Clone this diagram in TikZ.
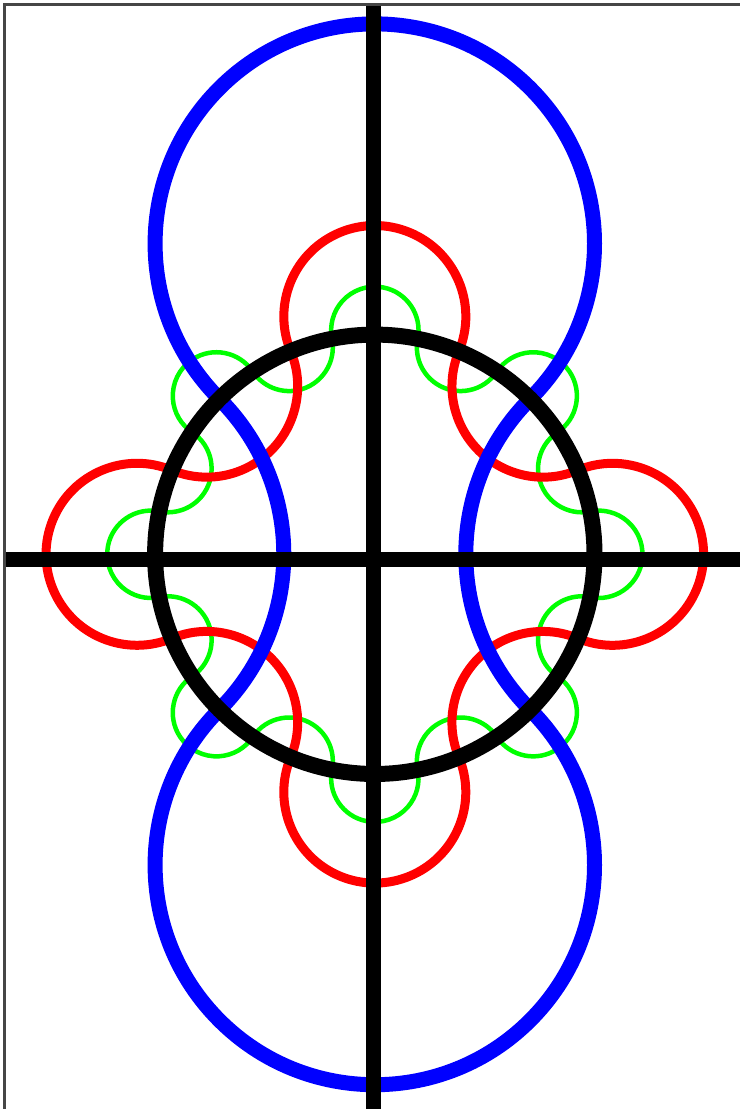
\documentclass[tikz,border=0pt]{standalone}
\definecolor{pblue}{RGB}{0,0,255}
\definecolor{pred}{RGB}{255,0,0}
\definecolor{pgreen}{RGB}{0,255,0}
\definecolor{pframe}{RGB}{70,70,70}
\tikzset{
  bluecurve/.style={draw=pblue, line width=15pt},
  redcurve/.style={draw=pred, line width=9pt},
  greencurve/.style={draw=pgreen, line width=4.5pt},
  maincircle/.style={draw=black, line width=16pt},
  axisline/.style={draw=black, line width=15pt},
  frameline/.style={draw=pframe, line width=2.5pt}
}
\begin{document}
\begin{tikzpicture}[x=1pt,y=1pt]
\useasboundingbox (0,0) rectangle (740,1109);
\clip (0,0) rectangle (740,1109);
\fill[white] (0,0) rectangle (740,1109);
\def\cx{374.8}
\def\cy{554.7}
\def\R{219.7}
\coordinate (C) at (\cx,\cy);
% green: 16 arcs
\pgfmathsetmacro\ga{11.25}
\pgfmathsetmacro\gr{\R*tan(\ga)}
\draw[greencurve] ({\cx+\R*cos(-\ga)},{\cy+\R*sin(-\ga)})
  \foreach \t in {0,45,...,315} {
    arc[start angle=\t-90-\ga, end angle=\t+90+\ga, radius=\gr pt]
    arc[start angle=\t+\ga-90, end angle=\t+3*\ga-270, radius=\gr pt]
  } -- cycle;
% red: 8 arcs
\pgfmathsetmacro\ra{22.5}
\pgfmathsetmacro\rr{\R*tan(\ra)}
\draw[redcurve] ({\cx+\R*cos(-\ra)},{\cy+\R*sin(-\ra)})
  \foreach \t in {0,90,180,270} {
    arc[start angle=\t-90-\ra, end angle=\t+90+\ra, radius=\rr pt]
    arc[start angle=\t+\ra-90, end angle=\t+3*\ra-270, radius=\rr pt]
  } -- cycle;
% blue: 4 arcs
\pgfmathsetmacro\ba{45}
\pgfmathsetmacro\br{\R*tan(\ba)}
\draw[bluecurve] ({\cx+\R*cos(45)},{\cy+\R*sin(45)})
  \foreach \t in {90,270} {
    arc[start angle=\t-90-\ba, end angle=\t+90+\ba, radius=\br pt]
    arc[start angle=\t+\ba-90, end angle=\t+3*\ba-270, radius=\br pt]
  } -- cycle;
% black circle
\draw[maincircle] (C) circle[radius=\R pt];
% axes
\coordinate (vtop) at (373,1104.5);
\coordinate (vbot) at (373,0);
\coordinate (hleft) at (4.5,549.5);
\coordinate (hright) at (740,549.5);
\draw[axisline] (vtop) -- (vbot);
\draw[axisline] (hleft) -- (hright);
% frame
\coordinate (f1) at (4.5,0);
\coordinate (f2) at (4.5,1104.5);
\coordinate (f3) at (740,1104.5);
\draw[frameline] (f1) -- (f2) -- (f3);
\end{tikzpicture}
\end{document}
